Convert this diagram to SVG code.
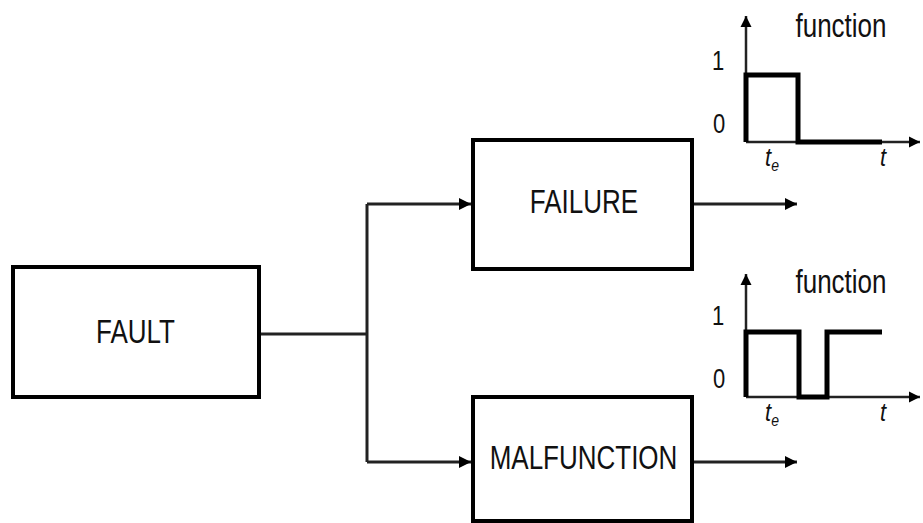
<svg xmlns="http://www.w3.org/2000/svg" width="923" height="523" viewBox="0 0 923 523">
<style>
.box{fill:#fff;stroke:#000;stroke-width:4}
.con{fill:none;stroke:#222;stroke-width:3}
.ax{fill:none;stroke:#222;stroke-width:2.5}
.sig{fill:none;stroke:#000;stroke-width:5;stroke-linejoin:miter}
text{font-family:"Liberation Sans",Arial,sans-serif;fill:#111}
.lbl{font-size:26px;text-anchor:middle}
.num{font-size:22px;text-anchor:middle}
.it{font-size:22px;font-style:italic;text-anchor:middle}
</style>
<defs>
<marker id="ah" viewBox="0 0 10 10" refX="10" refY="5" markerWidth="4" markerHeight="4" markerUnits="strokeWidth" orient="auto">
<path d="M0,0 L10,5 L0,10 z" fill="#000"/>
</marker>
<marker id="ah2" viewBox="0 0 10 10" refX="10" refY="5" markerWidth="4.5" markerHeight="4.5" markerUnits="strokeWidth" orient="auto">
<path d="M0,0 L10,5 L0,10 z" fill="#000"/>
</marker>
</defs>
<rect width="923" height="523" fill="#fff"/>
<g id="connectors">
<path class="con" d="M259,334 H367"/>
<path class="con" d="M367,204 V462"/>
<path class="con" d="M367,204 H471" marker-end="url(#ah)"/>
<path class="con" d="M367,462 H471" marker-end="url(#ah)"/>
<path class="con" d="M694,204 H797" marker-end="url(#ah)"/>
<path class="con" d="M694,462 H797" marker-end="url(#ah)"/>
</g>
<g id="fault">
<rect class="box" x="13" y="267" width="246" height="130"/>
<text class="lbl" transform="translate(135.5,343) scale(1,1.3)">FAULT</text>
</g>
<g id="failure">
<rect class="box" x="473" y="140" width="219" height="129"/>
<text class="lbl" transform="translate(584,213) scale(1,1.3)">FAILURE</text>
</g>
<g id="malfunction">
<rect class="box" x="473" y="397" width="219" height="124"/>
<text class="lbl" transform="translate(583.5,469) scale(1,1.3)">MALFUNCTION</text>
</g>
<g id="chart-failure">
<path class="ax" d="M746,142 V16" marker-end="url(#ah2)"/>
<path class="ax" d="M746,142 H920" marker-end="url(#ah2)"/>
<path class="sig" d="M746,142 V75 H798 V142 H882"/>
<text class="lbl" transform="translate(841,37) scale(1,1.25)">function</text>
<text class="num" transform="translate(718,70) scale(1,1.25)">1</text>
<text class="num" transform="translate(719,133) scale(1,1.25)">0</text>
<text class="it" transform="translate(772,166) scale(1,1.2)">t<tspan font-size="14" dy="4">e</tspan></text>
<text class="it" transform="translate(883,166) scale(1,1.2)">t</text>
</g>
<g id="chart-malfunction">
<path class="ax" d="M746,397 V274" marker-end="url(#ah2)"/>
<path class="ax" d="M746,397 H920" marker-end="url(#ah2)"/>
<path class="sig" d="M746,397 V332 H799 V397 H827 V332 H882"/>
<text class="lbl" transform="translate(841,293) scale(1,1.25)">function</text>
<text class="num" transform="translate(718,325) scale(1,1.25)">1</text>
<text class="num" transform="translate(719,388) scale(1,1.25)">0</text>
<text class="it" transform="translate(772,421) scale(1,1.2)">t<tspan font-size="14" dy="4">e</tspan></text>
<text class="it" transform="translate(883,421) scale(1,1.2)">t</text>
</g>
</svg>
